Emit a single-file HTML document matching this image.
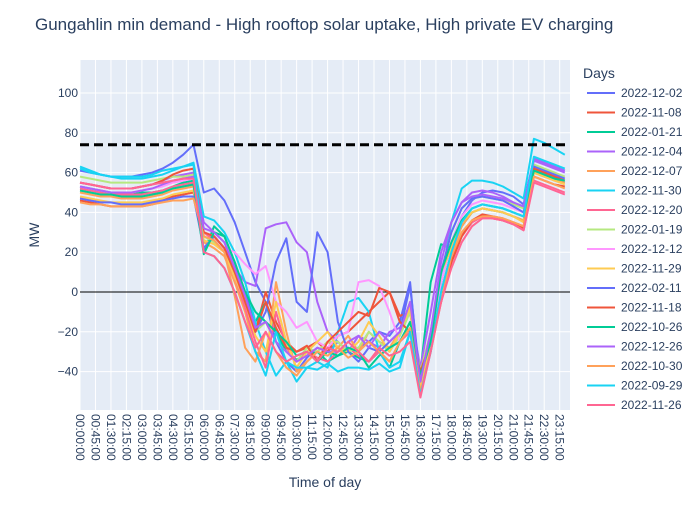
<!DOCTYPE html>
<html><head><meta charset="utf-8">
<style>
body{margin:0;background:#fff;font-family:"Liberation Sans",sans-serif;}
svg text{font-family:"Liberation Sans",sans-serif;}
</style></head>
<body>
<svg id="chart" width="700" height="500" xmlns="http://www.w3.org/2000/svg">
<rect x="0" y="0" width="700" height="500" fill="#fff"/>
<text x="35" y="30" font-size="17" fill="#2a3f5f">Gungahlin min demand - High rooftop solar uptake, High private EV charging</text>
<rect x="80" y="60" width="490" height="350" fill="#e5ecf6"/>
<g id="grid"></g>
<g id="series"></g>
<g id="axes"></g>
<g id="legend"></g>
<text x="325" y="487" font-size="14" fill="#2a3f5f" text-anchor="middle">Time of day</text>
<text transform="translate(39,235) rotate(-90)" font-size="14" fill="#2a3f5f" text-anchor="middle">MW</text>
<text x="583" y="78" font-size="14" fill="#2a3f5f">Days</text>
</svg>
<script>
const days=["2022-12-02","2022-11-08","2022-01-21","2022-12-04","2022-12-07","2022-11-30","2022-12-20","2022-01-19","2022-12-12","2022-11-29","2022-02-11","2022-11-18","2022-10-26","2022-12-26","2022-10-30","2022-09-29","2022-11-26"];
const colors=["#636efa","#EF553B","#00cc96","#ab63fa","#FFA15A","#19d3f3","#FF6692","#B6E880","#FF97FF","#FECB52","#636efa","#EF553B","#00cc96","#ab63fa","#FFA15A","#19d3f3","#FF6692"];
const yTicks=[100,80,60,40,20,0,-20,-40];
const limitValue=74;
const s0=[61,60,59,58,58,58,59,60,62,65,69,74,50,52,46,35,20,5,-5,-25,-35,-40,-33,-28,-30,-25,-30,-28,-25,-20,-22,-15,5,-50,-30,5,25,38,46,50,51,50,48,44,67,65,63,61];
const s1=[46,45,44,43,43,43,43,44,46,48,49,50,30,28,22,10,-5,-20,0,-15,-25,-30,-28,-25,-30,-22,-20,-15,-10,-5,0,-12,-10,-45,-25,-5,15,28,35,38,37,36,34,32,58,56,54,53];
const s2=[53,52,51,50,50,50,50,50,51,53,55,56,20,33,28,15,0,-15,-5,-20,-30,-34,-32,-30,-35,-32,-30,-33,-35,-30,-38,-25,-15,-40,5,24,22,33,40,42,41,40,38,36,60,58,57,55];
const s3=[55,54,53,52,52,52,53,54,56,58,59,60,35,30,25,12,5,3,32,34,35,25,20,-5,-20,-25,-30,-22,-25,-28,-20,-18,-10,-38,-10,20,35,45,50,51,50,48,45,42,67,65,63,61];
const s4=[50,49,48,48,47,47,47,48,49,51,52,53,25,22,18,5,-10,-30,-35,5,-20,-40,-35,-30,-25,-28,-22,-30,-20,-25,-28,-20,-5,-50,-25,0,20,33,40,42,41,40,38,36,60,58,56,55];
const s5=[63,61,59,58,57,57,57,58,59,61,63,65,38,36,30,20,5,-15,-30,-42,-35,-45,-38,-35,-38,-20,-5,-3,-10,-30,-38,-35,-20,-50,-30,5,35,52,56,56,55,53,50,47,77,75,72,69];
const s6=[52,51,50,49,49,49,49,50,51,53,54,55,30,26,20,8,-8,-25,-38,-10,-28,-35,-30,-33,-35,-30,-28,-32,-35,-30,-35,-25,-20,-52,-28,-5,15,28,35,38,37,36,34,31,56,54,52,50];
const s7=[58,57,56,55,55,55,55,56,57,58,58,59,28,25,20,8,-5,-20,-15,-25,-30,-35,-28,-30,-25,-25,-30,-28,-20,-25,-30,-22,-10,-40,-20,10,30,42,47,48,47,46,44,42,64,62,60,58];
const s8=[53,52,51,50,50,50,51,52,53,55,56,57,30,28,22,20,14,9,13,-5,-10,-18,-15,-25,-28,-22,-20,5,6,3,-10,-25,-15,-45,-22,5,25,38,44,46,45,44,42,40,55,53,51,49];
const s9=[48,47,46,45,45,45,45,46,47,49,50,51,26,24,20,8,-5,-22,-30,-5,-25,-38,-30,-25,-20,-28,-30,-25,-15,-22,-30,-20,-8,-48,-25,10,22,35,40,42,41,40,38,35,60,58,56,54];
const s10=[47,46,45,45,44,44,44,45,46,47,48,48,22,28,22,10,0,-20,-10,15,27,-5,-10,30,20,-15,-30,-35,-28,-30,-25,-20,3,-45,-20,10,30,42,47,48,47,46,43,40,63,61,59,57];
const s11=[55,54,53,52,52,52,53,54,56,59,61,62,30,28,22,10,-5,-20,-5,-18,-28,-30,-27,-35,-25,-20,-15,-10,-12,2,0,-15,-20,-40,-25,-5,15,28,36,39,38,37,35,33,62,60,58,56];
const s12=[51,50,49,49,48,48,48,49,50,52,53,54,19,30,28,15,0,-10,-15,-20,-25,-32,-30,-35,-30,-32,-28,-30,-38,-32,-28,-25,-15,-42,-25,10,25,36,42,44,43,42,40,38,61,59,57,56];
const s13=[53,52,51,50,50,50,51,52,54,56,57,58,32,30,25,12,-2,-18,-15,-25,-30,-35,-32,-28,-30,-30,-25,-22,-28,-20,-25,-20,-5,-45,-20,15,35,45,48,49,48,47,45,43,66,64,62,60];
const s14=[45,44,44,43,43,43,43,44,45,46,46,47,28,26,20,-2,-28,-35,-20,-30,-38,-42,-35,-30,-32,-28,-33,-30,-25,-30,-35,-25,-18,-50,-30,-5,18,30,36,38,38,37,35,33,58,56,54,52];
const s15=[62,60,59,58,58,58,58,59,61,62,63,64,20,18,12,0,-15,-30,-42,-20,-35,-38,-38,-39,-36,-40,-38,-38,-39,-36,-40,-38,-20,-52,-30,0,20,35,42,44,43,42,40,38,68,66,64,62];
const s16=[55,54,53,52,52,52,53,54,55,56,57,57,20,18,12,0,-15,-28,-20,-30,-35,-32,-30,-35,-28,-30,-25,-30,-35,-28,-32,-30,-25,-53,-30,-5,12,25,33,37,37,36,34,31,55,53,51,49];
const seriesValues=[s0,s1,s2,s3,s4,s5,s6,s7,s8,s9,s10,s11,s12,s13,s14,s15,s16];

const NS="http://www.w3.org/2000/svg";
function pad(n){return (n<10?"0":"")+n;}
const categories=[];
for(let m=0;m<1440;m+=15){categories.push(pad(Math.floor(m/60))+":"+pad(m%60)+":00");}
const X0=80,X1=570,Y0=60,Y1=410;
const step=(X1-X0)/(categories.length-1);
function xPos(cat){return X0+categories.indexOf(cat)*step;}
function yPos(v){return 292-v*1.99;}
function mk(tag,attrs,parent){const e=document.createElementNS(NS,tag);for(const k in attrs)e.setAttribute(k,attrs[k]);parent.appendChild(e);return e;}

const grid=document.getElementById('grid');
const axes=document.getElementById('axes');
yTicks.forEach(v=>{
  const l=mk('line',{x1:X0,x2:X1,y1:yPos(v),y2:yPos(v),stroke:v===0?'none':'#fff','stroke-width':1},grid);
  
  
  const t=mk('text',{x:X0-2,y:yPos(v)+4,'font-size':12,fill:'#2a3f5f','text-anchor':'end'},axes);
  t.textContent=v<0?'\u2212'+Math.abs(v):String(v);
  
  
});
categories.forEach((c,i)=>{
  if(i%3!==0)return;
  const x=xPos(c);
  const l=mk('line',{x1:x,x2:x,y1:Y0,y2:Y1,stroke:'#fff','stroke-width':1},grid);
  
  
  const t=mk('text',{transform:`translate(${x-4},414) rotate(90)`,'font-size':12,fill:'#2a3f5f'},axes);
  t.textContent=c;
  
  
});
const zl=mk('line',{x1:X0,x2:X1,y1:yPos(0),y2:yPos(0),stroke:'#000','stroke-width':1},grid);



const sg=document.getElementById('series');
seriesValues.forEach((vals,si)=>{
  const pts=vals.map((v,i)=>xPos(categories[i*2]).toFixed(1)+","+yPos(v).toFixed(1)).join(" ");
  const p=mk('polyline',{points:pts,fill:'none',stroke:colors[si],'stroke-width':2,'stroke-linejoin':'round'},sg);
  
  
});
const lim=mk('line',{x1:X0,x2:X1,y1:yPos(limitValue),y2:yPos(limitValue),stroke:'#000','stroke-width':3,'stroke-dasharray':'9,5'},sg);



const lg=document.getElementById('legend');
days.forEach((d,i)=>{
  const y=93+i*19.5;
  const g=mk('g',{},lg);
  
  
  mk('line',{x1:587,x2:615,y1:y,y2:y,stroke:colors[i],'stroke-width':2},g);
  const t=mk('text',{x:621,y:y+4,'font-size':12,fill:'#2a3f5f'},g);
  t.textContent=d;
});
</script>
</body></html>
